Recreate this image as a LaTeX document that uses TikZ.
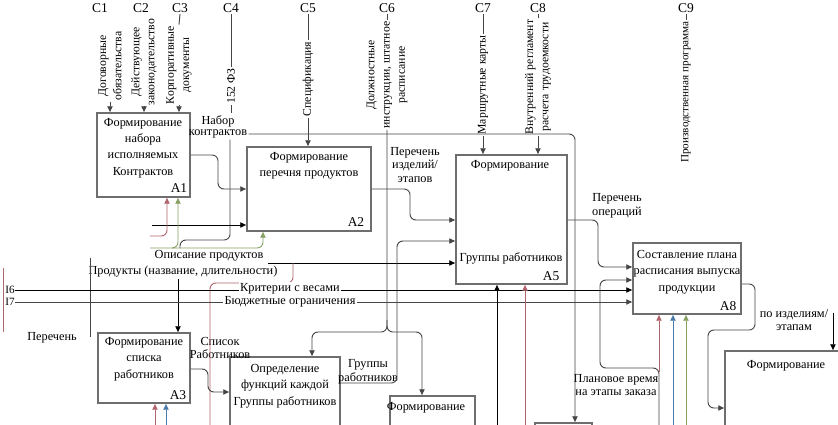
\documentclass[tikz,border=0pt]{standalone}
\usepackage{fontspec}
\setmainfont{Liberation Serif}
\usetikzlibrary{arrows.meta, positioning, fit, calc}
\definecolor{idgray}{HTML}{454545}
\definecolor{idbox}{HTML}{6E6E6E}
\definecolor{idred}{HTML}{B0646C}
\definecolor{idblue}{HTML}{4A7BA8}
\definecolor{idgreen}{HTML}{86A060}

\tikzset{
  fbox/.style={draw=idbox, line width=1.5pt, inner sep=0pt},
  btxt/.style={font=\fontsize{10.5}{14}\selectfont, align=center, inner sep=0pt},
  ntag/.style={font=\fontsize{11.5}{12}\selectfont, inner sep=0pt},
  lbl/.style={font=\fontsize{10.5}{11.5}\selectfont, align=center, inner sep=1pt},
  vlbl/.style={font=\fontsize{10}{13}\selectfont, align=center, inner sep=1pt, rotate=90},
  ctag/.style={font=\fontsize{11.5}{12}\selectfont, inner sep=1pt},
  itag/.style={font=\fontsize{9.5}{10}\selectfont, inner sep=0pt},
  wire/.style={draw=idgray, line width=0.8pt, rounded corners=5pt},
  bwire/.style={wire, draw=black},
  arr/.style={-{Triangle[length=5pt, width=4.5pt]}},
}

\begin{document}
\begin{tikzpicture}[x=0.03cm, y=-0.03cm]
  \useasboundingbox (0,0) rectangle (838,425);
  \clip (0,0) rectangle (838,425);

  %% function boxes
  \node[fbox, fit={(97,113) (190,197)}] (a1) {};
  \node[fbox, fit={(247,147) (371,231)}] (a2) {};
  \node[fbox, fit={(98,333) (190,403)}] (a3) {};
  \node[fbox, fit={(230,357) (340,450)}] (a4) {};
  \node[fbox, fit={(456,155) (567,284)}] (a5) {};
  \node[fbox, fit={(390,396) (475,450)}] (a6) {};
  \node[fbox, fit={(535,423) (592,450)}] (a7) {};
  \node[fbox, fit={(633,243) (741,314)}] (a8) {};
  \node[fbox, fit={(725,351) (850,450)}] (a9) {};

  %% box titles and numbers
  \node[btxt] (a1t) at (143,148) {Формирование\\набора\\исполняемых\\Контрактов};
  \node[ntag] (a1n) at (179,188) {A1};
  \node[btxt] (a2t) at (309,166) {Формирование\\перечня продуктов};
  \node[ntag] (a2n) at (356,222) {A2};
  \node[btxt] (a3t) at (144,359) {Формирование\\списка\\работников};
  \node[ntag] (a3n) at (178,395) {A3};
  \node[btxt] (a4t) at (285,386) {Определение\\функций каждой\\Группы работников};
  \node[btxt] (a5t) at (510,166) {Формирование};
  \node[btxt] (a5b) at (511,258) {Группы работников};
  \node[ntag] (a5n) at (551,276) {A5};
  \node[btxt] (a6t) at (426,408) {Формирование};
  \node[btxt] (a8t) at (687,272) {Составление плана\\расписания выпуска\\продукции};
  \node[ntag] (a8n) at (728,306) {A8};
  \node[btxt] (a9t) at (786,366) {Формирование};

  %% control tags and texts
  \node[ctag] (c1) at (100,8) {C1};
  \node[ctag] (c2) at (141,8) {C2};
  \node[ctag] (c3) at (180,8) {C3};
  \node[ctag] (c4) at (231,8) {C4};
  \node[ctag] (c5) at (308,8) {C5};
  \node[ctag] (c6) at (387,8) {C6};
  \node[ctag] (c7) at (483,8) {C7};
  \node[ctag] (c8) at (538,8) {C8};
  \node[ctag] (c9) at (686,8) {C9};

  \node[vlbl] (t1) at (110,66) {Договорные\\обязательства};
  \node[vlbl] (t2) at (144,62) {Действующее\\законодательство};
  \node[vlbl] (t3) at (179,65) {Корпоративные\\документы};
  \node[vlbl] (t4) at (231,86) {152 ФЗ};
  \node[vlbl] (t5) at (308,79) {Спецификация};
  \node[vlbl] (t6) at (387,75) {Должностные\\инструкции, штатное\\расписание};
  \node[vlbl] (t7) at (483,85) {Маршрутные карты};
  \node[vlbl] (t8) at (538,77) {Внутренний регламент\\расчета трудоемкости};
  \node[vlbl, font=\fontsize{9.5}{12}\selectfont] (t9) at (686,92) {Производственная программа};

  %% arrow labels
  \node[lbl] (nab) at (218,121) {Набор};
  \node[lbl] (kon) at (218,134) {контрактов};
  \node[lbl] (pi) at (415,165) {Перечень\\изделий/\\этапов};
  \node[lbl] (po) at (617,206) {Перечень\\операций};
  \node[lbl] (gr) at (368,372) {Группы\\работников};
  \node[lbl] (sr) at (220,348) {Список\\Работников};
  \node[lbl] (od) at (209,256) {Описание продуктов};
  \node[lbl] (prd) at (183,272) {Продукты (название, длительности)};
  \node[lbl] (pr) at (52,338) {Перечень};
  \node[lbl] (pn) at (616,385) {Плановое время\\на этапы заказа};
  \node[lbl] (pz) at (794,320) {по изделиям/\\этапам};
  \node[itag] (i6) at (10,290) {I6};
  \node[itag] (i7) at (10,302) {I7};

  %% controls
  \draw[wire, arr] (t1.west) -- (a1.north -| t1.west);
  \draw[wire, arr] (t2.west) -- (a1.north -| t2.west);
  \draw[wire] (c3.south) -- (t3.east);
  \draw[wire, arr] (t3.west) -- (a1.north -| t3.west);
  \draw[wire] (c4.south) -- (t4.east);
  \draw[wire] (t4.west) -- (231,113);
  \draw[wire] (c5.south) -- (t5.east);
  \draw[wire, arr] (t5.west) -- (a2.north -| t5.west);
  \draw[wire] (c6.south) -- (t6.east);
  \draw[wire, arr] (t6.west) -- (387,332) -| (a4.north -| 312,0);
  \draw[wire, arr] (387,320) -- (387,332) -| (a6.north -| 422,0);
  \draw[wire] (c7.south) -- (t7.east);
  \draw[wire, arr] (t7.west) -- (a5.north -| t7.west);
  \draw[wire] (c8.south) -- (t8.east);
  \draw[wire, arr] (t8.west) -- (a5.north -| t8.west);
  \draw[wire] (c9.south) -- (t9.east);

  %% contract set line
  \draw[wire, arr] (kon.east) -| (a7.north -| 575,0);
  \draw[wire] (kon.south -| 230,0) -- (230,240) -| (180,248);

  %% inputs and mechanisms, left part
  \coordinate (s2) at (152,225);
  \coordinate (s1r) at (150,236);
  \coordinate (s1g) at (150,248);
  \draw[bwire, arr] (s2) -- (a2.west |- s2);
  \draw[wire, draw=idred, arr] (s1r) -| (a1.south -| 167,0);
  \draw[wire, draw=idgreen, arr] (s1g) -| (a2.south -| 263,0);
  \draw[wire, draw=idgreen, arr] (172,248) -| (a1.south -| 178,0);
  \draw[wire, arr] (a1.east |- 0,155) -- (218,155) |- (a2.west |- 0,189);
  \draw[wire, arr] (a2.east |- 0,189) -- (410,189) |- (a5.west |- 0,220);

  \coordinate (s5) at (268,263);
  \draw[bwire, arr] (s5) -- (a5.west |- s5);
  \draw[bwire, arr] (prd.south -| 178,0) -- (a3.north -| 178,0);
  \draw[wire, draw=idred] (293,263) |- (210,283) -- (210,425);
  \draw[wire] (90,258) -- (90,337);
  \draw[wire, draw=idred] (3,268) -- (3,332);

  \draw[wire, arr] (a3.east |- 0,369) -- (208,369) |- (a4.west |- 0,392);
  \draw[wire, draw=idred, arr] (155,425) -- (a3.south -| 155,0);
  \draw[wire, draw=idblue, arr] (166,425) -- (a3.south -| 166,0);
  \draw[wire, arr] (a4.east |- 0,383) -- (397,383) |- (a5.west |- 0,241);

  %% criteria and budget
  \draw[bwire, arr] (i6.east) -- (a8.west |- i6.east);
  \draw[wire, arr] (i7.east) -- (a8.west |- i7.east);
  \node[lbl, fill=white] (kv) at (290,289) {Критерии с весами};
  \node[lbl, fill=white] (bo) at (290,302) {Бюджетные ограничения};

  %% A5 and A8
  \draw[bwire, arr] (497,425) -- (a5.south -| 497,0);
  \draw[wire, draw=idred, arr] (525,425) -- (a5.south -| 525,0);
  \draw[wire, arr] (a5.east |- 0,220) -- (598,220) |- (a8.west |- 0,267);
  \draw[wire, arr] (659,425) |- (600,368) |- (a8.west |- 0,280);
  \draw[wire, draw=idred, arr] (659,372) -- (a8.south -| 659,0);
  \draw[wire, draw=idblue, arr] (673,425) -- (a8.south -| 673,0);
  \draw[wire, draw=idgreen, arr] (686,425) -- (a8.south -| 686,0);
  \draw[wire, arr] (a8.east |- 0,284) -- (755,284) |- (708,330) |- (a9.west |- 0,408);
  \coordinate (s9) at (833,313);
  \draw[bwire, arr] (s9) -- (a9.north -| s9);

\end{tikzpicture}
\end{document}
